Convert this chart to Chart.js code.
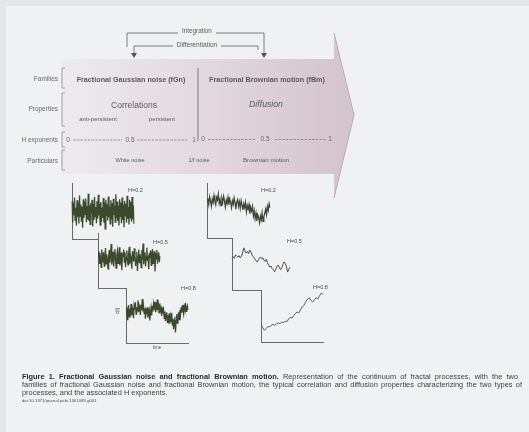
<!DOCTYPE html>
<html>
<head>
<meta charset="utf-8">
<script src="https://cdn.jsdelivr.net/npm/chart.js@4.4.1/dist/chart.umd.min.js"></script>
<style>
  html, body { margin:0; padding:0; }
  body { width:529px; height:432px; overflow:hidden; background:#eff1f3; font-family:"Liberation Sans", Arial, sans-serif; }
  #page { position:absolute; left:0; top:0; width:529px; height:432px; filter:blur(0.55px); }
  .strip { position:absolute; background:#e3e5e7; }
  .t { position:absolute; white-space:nowrap; line-height:1; color:#555; }
  .c { transform:translate(-50%,-50%); }
  .r { transform:translate(-100%,-50%); }
  .l { transform:translate(0,-50%); }
  .side { font-size:6.5px; color:#6a6a6a; }
  .fam { font-size:7.2px; font-weight:bold; color:#595959; }
  .hl { font-size:5.5px; color:#4a4a4a; }
  canvas { position:absolute; }
  .cap { position:absolute; left:22px; font-size:7.4px; line-height:1; color:#404040; white-space:nowrap; transform:translateY(-50%); }
  .just { white-space:normal; text-align:justify; text-align-last:justify; height:8px; overflow:hidden; }
  .cap b { color:#2a2a2a; }
</style>
</head>
<body>
<div id="page">
  <div class="strip" style="left:0;top:0;width:529px;height:6px;"></div>
  <div class="strip" style="left:0;top:0;width:6px;height:432px;"></div>

  <svg width="529" height="432" style="position:absolute;left:0;top:0">
    <defs>
      <linearGradient id="arrowFill" x1="62" y1="0" x2="354" y2="0" gradientUnits="userSpaceOnUse">
        <stop offset="0" stop-color="#edebee"/>
        <stop offset="0.45" stop-color="#e3dae0"/>
        <stop offset="1" stop-color="#d4c3cb"/>
      </linearGradient>
    </defs>
    <polygon points="62,59 334,59 334,33 354,115 334,198 334,174 62,174" fill="url(#arrowFill)"/>
    <polyline points="334,33 354,115 334,198" fill="none" stroke="#b9aab2" stroke-width="1"/>

    <!-- integration / differentiation brackets -->
    <g stroke="#6f6f6f" stroke-width="0.9" fill="none">
      <path d="M127 47 V33 H178 M216 33 H264 V54"/>
      <path d="M258 50 V46 H221 M173 46 H134 V54"/>
    </g>
    <g fill="#555">
      <polygon points="261,53 267,53 264,58"/>
      <polygon points="131,53 137,53 134,58"/>
    </g>

    <!-- left brackets -->
    <g stroke="#8a8a8a" stroke-width="0.8" fill="none">
      <path d="M65 68 H62 V88 H65"/>
      <path d="M65 93 H62 V126 H65"/>
      <path d="M65 132 H62 V147 H65"/>
      <path d="M65 150 H62 V170 H65"/>
    </g>

    <!-- fGn / fBm divider -->
    <line x1="198" y1="68" x2="198" y2="141" stroke="#6f6f6f" stroke-width="0.9"/>

    <!-- H exponent scales -->
    <g stroke="#808080" stroke-width="0.8" stroke-dasharray="2.5 1.2">
      <line x1="73" y1="140" x2="122" y2="140"/>
      <line x1="137" y1="140" x2="187" y2="140"/>
      <line x1="208" y1="139.5" x2="255" y2="139.5"/>
      <line x1="275" y1="139.5" x2="326" y2="139.5"/>
    </g>
  </svg>

  <div class="t c" style="left:197px;top:31px;font-size:6.3px;color:#5a5a5a">Integration</div>
  <div class="t c" style="left:197px;top:45px;font-size:6.6px;color:#5a5a5a">Differentiation</div>

  <div class="t r side" style="left:58px;top:79px">Families</div>
  <div class="t r side" style="left:58px;top:109px">Properties</div>
  <div class="t r side" style="left:58px;top:140px">H exponents</div>
  <div class="t r side" style="left:58px;top:161px">Particulars</div>

  <div class="t c fam" style="left:131px;top:80px">Fractional Gaussian noise (fGn)</div>
  <div class="t c fam" style="left:267px;top:80px">Fractional Brownian motion (fBm)</div>

  <div class="t c" style="left:134px;top:105px;font-size:8.5px;color:#5a5a5a">Correlations</div>
  <div class="t c" style="left:98px;top:119px;font-size:6px;color:#5a5a5a">anti-persistent</div>
  <div class="t c" style="left:162px;top:119px;font-size:6px;color:#5a5a5a">persistent</div>
  <div class="t c" style="left:266px;top:104px;font-size:8.7px;font-style:italic;color:#5a5a5a">Diffusion</div>

  <div class="t c side" style="left:68px;top:140px">0</div>
  <div class="t c side" style="left:130px;top:140px">0.5</div>
  <div class="t c side" style="left:194px;top:140px">1</div>
  <div class="t c side" style="left:203px;top:139px">0</div>
  <div class="t c side" style="left:265px;top:139px">0.5</div>
  <div class="t c side" style="left:330px;top:139px">1</div>

  <div class="t c" style="left:130px;top:161px;font-size:5.6px;color:#5a5a5a">White noise</div>
  <div class="t c" style="left:199px;top:161px;font-size:5.6px;color:#5a5a5a">1/f noise</div>
  <div class="t c" style="left:266px;top:160px;font-size:6.2px;color:#5a5a5a">Brownian motion</div>

  <canvas id="fgn1"></canvas>
  <canvas id="fgn2"></canvas>
  <canvas id="fgn3"></canvas>
  <canvas id="fbm1"></canvas>
  <canvas id="fbm2"></canvas>
  <canvas id="fbm3"></canvas>

  <div class="t l hl" style="left:128px;top:191px">H=0.2</div>
  <div class="t l hl" style="left:153px;top:243px">H=0.5</div>
  <div class="t l hl" style="left:181px;top:289px">H=0.8</div>
  <div class="t l hl" style="left:261px;top:191px">H=0.2</div>
  <div class="t l hl" style="left:287px;top:242px">H=0.5</div>
  <div class="t l hl" style="left:313px;top:288px">H=0.8</div>
  <div class="t c" style="left:118px;top:311px;font-size:4.5px;color:#555;transform:translate(-50%,-50%) rotate(-90deg)">x(t)</div>
  <div class="t c" style="left:157px;top:348px;font-size:4.5px;color:#555">time</div>

  <div class="cap just" style="top:377px;width:496px"><b>Figure 1. Fractional Gaussian noise and fractional Brownian motion.</b> Representation of the continuum of fractal processes, with the two</div>
  <div class="cap just" style="top:385px;width:500px">families of fractional Gaussian noise and fractional Brownian motion, the typical correlation and diffusion properties characterizing the two types of</div>
  <div class="cap" style="top:393px">processes, and the associated H exponents.</div>
  <div class="cap" style="top:401px;font-size:4px;letter-spacing:0.15px">doi:10.1371/journal.pcbi.1001089.g001</div>
</div>

<script>
// Series (values on a -1..1 panel scale)
const fgn02 = [0.35,-0.42,0.28,-0.15,0.48,-0.33,0.12,-0.52,0.38,-0.21,0.30,-0.45,0.55,-0.18,0.22,-0.38,0.15,-0.60,0.42,-0.25,
  0.33,-0.12,0.45,-0.40,0.18,-0.30,0.62,-0.35,0.20,-0.48,0.28,-0.10,0.40,-0.55,0.25,-0.32,0.50,-0.20,0.14,-0.44,
  0.36,-0.28,0.58,-0.16,0.26,-0.50,0.32,-0.38,0.12,-0.25,0.46,-0.42,0.30,-0.64,0.40,-0.18,0.24,-0.34,0.52,-0.22,
  0.16,-0.46,0.38,-0.30,0.28,-0.56,0.44,-0.14,0.20,-0.40,0.60,-0.26,0.34,-0.36,0.18,-0.52,0.42,-0.20,0.30,-0.44,
  0.48,-0.32,0.22,-0.58,0.36,-0.16,0.26,-0.42,0.54,-0.28,0.14,-0.48,0.40,-0.24,0.32,-0.38,0.50,-0.30,0.20,-0.46];
const fgn05 = [0.12,0.35,-0.10,0.28,0.05,-0.25,0.40,0.18,-0.05,0.30,-0.20,0.10,0.45,-0.12,0.22,0.02,-0.30,0.15,0.38,-0.08,
  0.25,0.60,-0.15,0.08,0.32,-0.22,0.18,0.42,0.00,-0.28,0.20,0.35,-0.10,0.12,0.48,-0.18,0.05,0.28,-0.35,0.22,
  0.15,0.40,-0.06,0.30,-0.24,0.10,0.36,0.02,-0.16,0.26,0.50,-0.12,0.18,0.08,-0.30,0.34,0.14,-0.04,0.44,0.20,
  -0.20,0.06,0.32,-0.38,0.16,0.40,-0.08,0.24,0.10,-0.26,0.38,0.04,0.62,-0.14,0.20,0.30,-0.22,0.12,0.46,-0.02,
  0.18,-0.32,0.28,0.08,0.36,-0.18,0.22,0.42,-0.10,0.14,0.34,-0.40,0.26,0.06,0.38,-0.12,0.20,0.30,-0.06,0.16];
const fgn08 = [0.05,0.30,-0.15,0.20,0.38,-0.05,0.25,0.10,0.42,0.00,0.28,0.15,-0.10,0.35,0.22,0.48,0.05,0.30,0.18,0.55,
  0.12,0.36,0.25,0.02,0.40,0.20,0.60,0.15,0.32,0.08,0.26,-0.12,0.18,0.05,0.30,-0.08,0.14,0.22,-0.18,0.10,
  0.28,0.00,0.35,0.16,0.42,0.24,0.50,0.12,0.38,0.28,0.58,0.20,0.34,0.10,0.44,0.18,0.26,-0.02,0.30,0.08,
  0.20,-0.10,0.15,-0.20,0.05,0.12,-0.25,0.02,-0.15,0.08,-0.30,-0.05,-0.22,0.10,-0.35,-0.12,-0.50,-0.18,-0.05,-0.62,
  -0.20,0.05,-0.28,-0.10,0.12,-0.15,0.20,0.02,0.30,0.10,0.38,0.18,0.05,0.32,0.22,0.45,0.15,0.28,0.35,0.20];
const fbm02 = [0.30,0.45,0.22,0.50,0.35,0.15,0.42,0.28,0.55,0.32,0.20,0.48,0.38,0.60,0.25,0.40,0.18,0.45,0.30,0.52,
  0.35,0.12,0.38,0.25,0.48,0.20,0.42,0.30,0.10,0.35,0.22,0.46,0.28,0.05,0.30,0.40,0.15,0.32,0.08,0.36,
  0.20,0.02,0.25,0.10,0.30,-0.05,0.18,0.05,0.22,-0.12,0.10,-0.02,0.15,-0.20,0.00,-0.30,-0.10,-0.38,-0.15,-0.25,
  -0.45,-0.20,-0.35,-0.08,-0.40,-0.22,-0.10,0.05,-0.15,0.15,0.00,0.25,0.10];
const fbm05 = [0.20,0.28,0.22,0.35,0.30,0.26,0.32,0.24,0.30,0.45,0.62,0.50,0.42,0.48,0.40,0.54,0.46,0.34,0.28,0.22,
  0.15,0.08,0.12,0.22,0.27,0.20,0.24,0.15,0.10,0.18,0.05,-0.04,-0.12,-0.08,-0.18,-0.23,-0.30,-0.20,-0.10,-0.04,
  -0.14,-0.22,-0.15,-0.02,0.08,0.02,-0.10,-0.31,-0.20,-0.12];
const fbm08 = [-0.30,-0.45,-0.55,-0.48,-0.40,-0.42,-0.35,-0.32,-0.36,-0.30,-0.27,-0.29,-0.24,-0.25,-0.20,-0.22,-0.12,-0.05,-0.08,0.02,
  0.10,0.15,0.12,0.25,0.35,0.42,0.55,0.65,0.70,0.60,0.54,0.62,0.70,0.66,0.78,0.88,0.84];

const PAGE_BG = "#eff1f3";

// each panel paints its own background so it hides the axis of the panel behind it
const panelBg = {
  id: "panelBg",
  beforeDraw(chart){
    const {ctx, chartArea:a} = chart;
    ctx.save();
    ctx.fillStyle = PAGE_BG;
    ctx.fillRect(a.left, 0, chart.width - a.left, a.bottom);
    ctx.restore();
  }
};

function panel(id, box, values, color, lw){
  const cv = document.getElementById(id);
  cv.width = box.r - box.l + 4;
  cv.height = box.b - box.t + 4;
  cv.style.left = (box.l - 2) + "px";
  cv.style.top = (box.t - 2) + "px";
  const axis = { display:true, grid:{ display:false, drawTicks:false }, ticks:{ display:false },
                 border:{ display:true, color:"#6a6a6a", width:1 } };
  return new Chart(cv, {
    type: "line",
    data: { labels: values.map((_, i) => i),
            datasets: [{ data: values, borderColor: color, borderWidth: lw, pointRadius: 0, tension: 0 }] },
    options: {
      responsive: false, animation: false, events: [],
      layout: { padding: { left: 2, right: 2, top: 2, bottom: 2 } },
      plugins: { legend: { display: false }, tooltip: { enabled: false } },
      scales: { x: { ...axis }, y: { ...axis, min: -1, max: 1 } }
    },
    plugins: [panelBg]
  });
}

panel("fgn1", {l:72,  r:134, t:183, b:239}, fgn02, "#3b4a2c", 1.3);
panel("fgn2", {l:98,  r:160, t:233, b:288}, fgn05, "#3b4a2c", 1.3);
panel("fgn3", {l:126, r:188, t:288, b:343}, fgn08, "#3b4a2c", 1.3);
panel("fbm1", {l:207, r:270, t:183, b:238}, fbm02, "#3e4436", 1.2);
panel("fbm2", {l:232, r:290, t:238, b:290}, fbm05, "#4a4f44", 1);
panel("fbm3", {l:261, r:323, t:290, b:342}, fbm08, "#5c5f58", 1);
</script>
</body>
</html>
